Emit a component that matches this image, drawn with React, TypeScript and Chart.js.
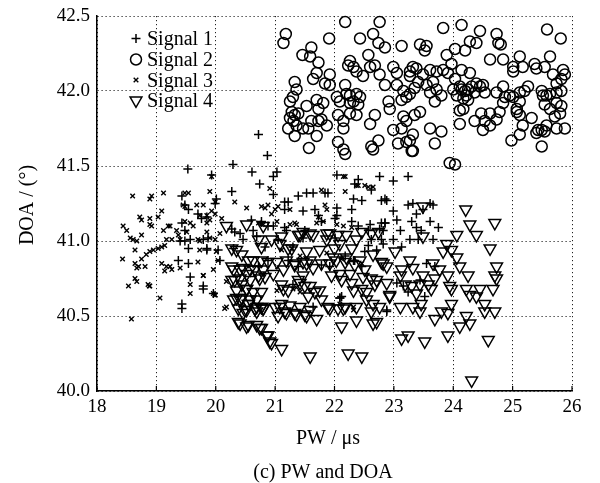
import React, { useEffect, useRef } from 'react';
import { Chart, registerables } from 'chart.js';

Chart.register(...registerables);

type Pt = [number, number];

const xTickValues = [18, 19, 20, 21, 22, 23, 24, 25, 26];
const yTickValues = [40.0, 40.5, 41.0, 41.5, 42.0, 42.5];
const seriesNames = ['Signal 1', 'Signal 2', 'Signal 3', 'Signal 4'];
const xTitle = 'PW / μs';
const yTitle = 'DOA / (°)';
const caption = '(c) PW and DOA';

// Signal 1 (+)
const signal1: Pt[] = [
  [20.72, 41.71], [20.87, 41.57], [20.29, 41.51], [19.53, 41.48], [20.61, 41.46], [21.03, 41.46], [20.97, 41.43], [20.74, 41.38], [19.93, 41.44],
  [20.27, 41.33], [20.01, 41.28], [19.99, 41.25], [19.43, 41.30], [19.48, 41.24], [19.54, 41.21], [19.70, 41.18], [19.76, 41.15], [19.85, 41.16],
  [19.43, 41.12], [19.48, 41.07], [19.40, 41.00], [19.48, 41.00], [19.57, 41.01], [19.54, 40.95], [19.79, 41.01], [19.87, 41.02], [19.37, 40.87],
  [19.54, 40.85], [19.85, 40.94], [19.57, 40.76], [19.79, 40.68], [19.43, 40.58], [19.43, 40.55],
  [20.27, 41.08], [20.32, 41.06], [20.46, 41.01], [20.60, 41.14], [20.63, 41.07], [20.69, 41.03], [20.04, 40.94], [20.07, 40.87], [19.96, 40.65],
  [22.04, 41.44], [22.34, 41.38], [22.62, 41.34], [22.76, 41.43], [22.40, 41.41], [20.97, 41.31], [21.16, 41.26], [21.22, 41.26], [21.39, 41.30],
  [21.53, 41.32], [21.64, 41.32], [21.84, 41.32], [21.89, 41.32],
  [21.16, 41.21], [21.47, 41.20], [21.67, 41.21], [21.73, 41.17], [22.04, 41.22], [22.29, 41.21], [22.04, 41.17], [22.32, 41.28], [22.46, 41.27], [22.79, 41.27],
  [20.77, 41.13], [20.88, 41.10], [21.16, 41.09], [21.50, 41.07], [21.78, 41.13], [22.01, 41.15], [22.29, 41.13], [22.40, 41.10], [22.57, 41.07], [22.79, 41.12], [22.82, 41.07],
  [20.83, 40.96], [21.05, 41.01], [22.01, 41.02], [22.18, 40.90], [22.57, 40.97], [22.62, 41.01], [22.51, 40.93], [22.82, 40.98], [22.34, 40.87], [22.46, 40.83],
  [20.72, 40.83], [20.88, 40.87], [21.22, 40.87], [21.39, 40.83], [21.78, 40.84], [21.92, 40.83], [21.30, 40.71], [22.12, 40.63], [21.64, 40.56], [22.09, 40.62],
  [22.99, 41.40], [23.24, 41.43], [22.85, 41.28], [22.88, 41.27], [22.99, 41.20], [22.85, 41.12], [23.05, 41.14], [23.11, 41.07], [23.24, 41.24], [23.32, 41.25],
  [23.38, 41.18], [23.49, 41.21], [23.61, 41.25], [23.66, 41.24], [23.61, 41.13], [23.75, 41.09], [23.30, 41.13], [23.38, 41.09], [23.46, 41.07], [23.27, 41.01],
  [23.41, 41.01], [23.13, 40.96], [22.76, 41.08], [23.66, 41.01], [22.99, 41.01], [23.55, 40.85], [23.69, 40.83], [23.44, 40.74], [23.52, 40.63], [22.88, 40.53],
  [23.05, 40.72], [23.16, 40.70], [23.24, 40.66],
  [19.85, 40.95], [19.79, 40.70], [20.41, 41.05], [20.30, 40.95], [20.97, 41.10], [21.19, 41.07], [21.30, 40.96], [21.47, 41.02], [22.60, 41.11], [22.85, 41.12],
  [22.79, 41.01], [22.71, 40.94], [22.09, 40.62], [22.88, 40.54], [22.32, 40.87],
];

// Signal 2 (o)
const signal2: Pt[] = [
  [21.18, 42.38], [21.14, 42.32], [22.18, 42.46], [22.76, 42.46], [21.91, 42.35], [22.43, 42.35], [22.65, 42.38], [22.74, 42.32], [22.85, 42.29], [23.13, 42.30],
  [21.61, 42.29], [21.46, 42.24], [21.59, 42.23], [21.73, 42.19], [22.26, 42.20], [22.23, 42.17], [22.32, 42.16], [22.37, 42.13], [22.57, 42.24], [22.60, 42.16],
  [22.68, 42.17], [22.48, 42.10], [22.76, 42.11], [22.99, 42.16], [23.05, 42.12], [21.70, 42.12], [21.64, 42.08], [21.92, 42.11], [21.84, 42.05], [21.92, 42.04],
  [21.33, 42.06], [21.36, 42.01], [21.30, 41.96], [22.18, 42.04], [22.20, 41.98], [22.04, 41.96], [22.09, 41.93], [22.26, 41.97], [22.37, 41.98], [22.43, 41.96],
  [22.26, 41.92], [22.32, 41.93], [22.40, 41.91], [22.85, 42.04], [23.05, 42.04], [23.16, 42.00], [23.21, 41.96], [23.27, 41.98], [23.13, 41.94], [23.32, 42.16], [23.27, 42.10],
  [21.25, 41.93], [21.28, 41.86], [21.33, 41.84], [21.39, 41.85], [21.25, 41.82], [21.31, 41.80], [21.36, 41.77], [21.53, 41.90], [21.70, 41.94], [21.81, 41.92],
  [21.73, 41.88], [21.61, 41.80], [21.73, 41.80], [21.78, 41.81], [21.87, 41.77], [21.22, 41.75], [21.33, 41.70], [21.47, 41.75], [21.56, 41.75], [21.70, 41.70], [21.57, 41.62],
  [22.06, 41.84], [22.15, 41.80], [22.15, 41.75], [22.26, 41.85], [22.37, 41.84], [22.06, 41.66], [22.15, 41.61], [22.18, 41.58], [22.60, 41.78], [22.68, 41.84],
  [22.74, 41.67], [22.62, 41.63], [22.65, 41.61], [22.91, 41.93], [22.93, 41.88], [22.99, 41.74], [23.13, 41.75], [23.16, 41.83], [23.21, 41.80], [23.07, 41.65],
  [23.21, 41.66], [23.27, 41.67], [23.30, 41.60],
  [23.83, 42.42], [24.14, 42.44], [24.45, 42.40], [24.73, 42.38], [24.76, 42.32], [24.80, 42.31], [25.58, 42.41], [25.81, 42.35], [23.44, 42.31], [23.55, 42.30],
  [23.52, 42.27], [24.03, 42.28], [24.20, 42.27], [24.28, 42.33], [24.39, 42.32], [23.89, 42.24], [23.97, 42.18], [24.62, 42.21], [24.84, 42.21], [25.12, 42.23],
  [25.01, 42.16], [25.01, 42.13], [25.17, 42.16], [25.37, 42.18], [25.40, 42.15], [25.54, 42.16], [25.63, 42.23], [25.85, 42.14], [25.88, 42.11], [25.82, 42.08],
  [25.74, 42.05], [25.68, 42.11],
  [23.38, 42.15], [23.27, 42.13], [23.49, 42.11], [23.61, 42.14], [23.72, 42.13], [23.83, 42.14], [23.91, 42.12], [23.66, 42.06], [23.55, 42.04], [23.41, 42.06],
  [23.35, 42.02], [23.61, 41.99], [23.72, 42.01], [23.80, 41.97], [23.69, 41.93],
  [24.03, 42.08], [24.14, 42.14], [24.28, 42.12], [24.11, 42.03], [24.14, 42.01], [24.20, 42.00], [24.25, 42.01], [24.31, 42.03], [24.39, 42.05], [24.45, 42.03],
  [24.50, 42.04], [24.36, 41.99], [24.22, 41.97], [24.06, 41.97], [24.17, 41.95], [24.25, 41.94], [24.11, 41.87], [24.17, 41.88], [24.00, 42.01],
  [24.53, 41.99], [24.73, 41.99], [24.84, 42.03], [24.87, 41.96], [24.95, 41.97], [25.12, 41.99], [25.20, 42.00], [25.26, 42.03], [25.49, 42.00], [25.57, 41.97],
  [25.51, 41.97], [25.63, 41.98], [25.74, 41.99], [25.82, 42.00], [24.84, 41.92], [25.07, 41.88], [25.12, 41.93], [25.01, 41.96], [25.54, 41.91], [25.63, 41.88],
  [25.74, 41.92], [25.82, 41.90], [25.80, 41.85], [25.71, 41.83],
  [24.47, 41.85], [24.62, 41.85], [24.78, 41.86], [24.36, 41.80], [24.53, 41.80], [24.62, 41.77], [24.50, 41.74], [24.73, 41.81], [25.07, 41.86], [25.12, 41.84],
  [25.17, 41.77], [24.98, 41.67], [25.12, 41.71], [25.32, 41.82], [25.43, 41.74], [25.49, 41.74], [25.57, 41.77], [25.54, 41.73], [25.40, 41.72], [25.74, 41.75],
  [25.88, 41.75], [25.49, 41.63],
  [23.35, 41.84], [23.32, 41.71], [23.32, 41.60], [23.44, 41.86], [23.61, 41.75], [23.69, 41.65], [23.80, 41.73], [24.11, 41.78], [23.94, 41.52], [24.03, 41.51],
];

// Signal 3 (x)
const signal3: Pt[] = [
  [18.60, 41.30], [18.92, 41.30], [18.89, 41.28], [19.12, 41.32], [18.44, 41.10], [18.50, 41.07], [18.72, 41.16], [18.75, 41.14], [18.89, 41.15], [18.89, 41.11],
  [18.92, 41.10], [19.09, 41.20], [19.03, 41.16], [19.12, 41.07], [19.20, 41.10], [19.23, 41.10],
  [18.56, 41.02], [18.61, 41.01], [18.67, 41.00], [18.75, 41.04], [18.64, 40.94], [18.43, 40.88],
  [18.64, 40.85], [18.67, 40.82], [18.70, 40.83], [18.81, 40.83], [18.75, 40.88], [18.83, 40.91], [18.89, 40.93], [18.95, 40.94], [19.03, 40.95], [19.09, 40.96],
  [19.14, 40.97], [19.17, 41.01], [19.26, 41.01],
  [18.64, 40.75], [18.67, 40.73], [18.86, 40.71], [18.89, 40.70], [19.06, 40.62], [18.58, 40.48],
  [19.09, 40.85], [19.17, 40.83], [19.23, 40.83], [19.26, 40.81], [19.40, 40.82], [19.14, 40.80],
  [19.34, 41.07], [19.37, 41.04], [19.40, 41.01], [19.48, 41.13], [19.51, 41.06], [19.57, 41.12], [19.62, 41.10], [19.70, 41.01], [19.73, 41.00], [19.73, 40.94],
  [19.70, 40.86], [19.85, 41.06], [19.90, 41.02], [19.99, 41.01], [20.01, 40.93], [20.04, 40.87],
  [19.48, 41.32], [19.54, 41.32], [19.45, 41.24], [19.48, 41.23], [19.68, 41.24], [19.79, 41.24], [19.73, 41.17], [19.85, 41.17], [19.90, 41.14], [19.93, 41.20],
  [19.90, 41.33], [19.93, 41.43], [19.99, 41.26], [19.99, 41.18], [20.10, 41.15],
  [19.57, 40.71], [19.57, 40.65], [19.79, 40.77], [19.96, 40.65], [19.99, 40.64], [20.18, 40.56], [20.52, 41.22], [20.32, 41.26],
  [20.91, 41.35], [20.77, 41.23], [20.83, 41.22], [20.88, 41.24], [20.94, 41.18], [21.00, 41.21], [21.05, 41.23], [21.03, 41.13], [21.25, 41.21], [21.84, 41.24],
  [21.78, 41.34], [22.18, 41.33], [22.37, 41.37], [22.51, 41.37], [22.65, 41.36], [21.87, 41.21], [22.18, 41.43],
  [20.72, 41.12], [20.80, 41.11], [21.25, 41.11], [21.33, 41.12], [21.73, 41.16], [21.81, 41.13], [22.15, 41.10], [22.29, 41.09],
  [21.11, 40.94], [21.42, 40.90], [21.28, 40.95], [21.87, 40.92], [22.12, 40.88], [22.46, 40.85], [21.30, 40.68], [22.32, 40.56],
  [18.53, 40.70], [18.88, 40.70], [22.15, 41.43], [22.40, 41.37], [22.57, 41.36],
  [19.96, 40.81], [20.18, 40.73], [20.15, 40.55], [19.99, 40.64], [19.79, 40.77], [21.03, 40.67], [21.36, 40.69], [21.42, 40.66], [22.32, 40.54], [22.09, 40.58],
  [19.85, 41.12], [20.07, 41.05], [20.77, 41.11], [21.36, 41.11], [21.70, 41.12], [22.04, 41.11],
];

// Signal 4 (downward triangle)
const signal4: Pt[] = [
  [24.21, 41.21], [24.70, 41.12], [24.28, 41.11], [24.39, 41.04], [24.06, 41.04], [23.89, 40.98], [23.97, 40.94], [24.06, 40.89], [24.11, 40.83], [24.62, 40.95],
  [24.73, 40.83], [24.70, 40.77], [24.73, 40.75],
  [24.25, 40.77], [24.22, 40.68], [24.28, 40.64], [24.45, 40.68], [24.39, 40.63], [24.67, 40.68], [24.53, 40.58], [24.70, 40.53], [24.53, 40.53],
  [23.94, 40.70], [23.97, 40.58], [23.80, 40.53], [23.91, 40.52], [23.69, 40.48], [24.11, 40.43], [24.22, 40.50], [24.28, 40.45],
  [23.13, 40.35], [23.24, 40.37], [23.52, 40.33], [23.91, 40.37], [24.59, 40.34], [24.31, 40.07], [23.49, 41.23], [23.49, 41.03],
  [23.27, 40.87], [23.13, 40.81], [23.11, 40.77], [23.32, 40.82], [23.49, 40.77], [23.69, 40.75], [23.44, 40.71], [23.58, 40.71], [23.30, 40.70], [23.19, 40.71],
  [23.77, 40.81], [23.91, 40.77], [23.97, 40.68], [22.93, 40.64], [23.38, 40.65], [23.63, 40.68], [23.11, 40.56], [23.32, 40.56], [23.44, 40.53], [23.46, 40.58],
  [23.66, 40.85], [23.83, 40.93], [23.02, 40.93], [22.88, 40.83],
  [21.39, 41.04], [21.47, 41.06], [21.64, 41.04], [21.87, 41.05], [22.06, 41.04], [22.20, 41.04], [22.46, 41.06], [22.62, 41.05], [22.74, 41.06], [20.72, 41.01],
  [20.94, 41.01], [21.08, 40.98], [21.22, 40.95], [21.11, 41.03], [20.77, 40.96],
  [20.77, 40.87], [20.88, 40.86], [21.03, 40.86], [21.19, 40.87], [21.33, 40.85], [21.47, 40.86], [21.59, 40.87], [21.78, 40.85], [21.92, 40.85], [22.03, 40.87],
  [22.18, 40.86], [22.34, 40.84], [22.51, 40.81], [22.79, 40.86], [21.28, 40.95], [21.53, 40.93], [21.75, 40.94], [22.00, 40.95], [22.29, 40.95],
  [20.72, 40.77], [20.83, 40.76], [20.97, 40.78], [21.11, 40.71], [21.22, 40.67], [21.39, 40.74], [21.50, 40.70], [21.67, 40.66], [21.56, 40.63], [21.78, 40.61],
  [21.95, 40.77], [22.12, 40.74], [22.29, 40.72], [22.46, 40.68], [22.62, 40.75], [22.68, 40.71], [20.77, 40.66], [20.69, 40.61],
  [20.77, 40.56], [21.00, 40.56], [21.16, 40.53], [21.33, 40.52], [21.50, 40.51], [21.70, 40.48], [21.89, 40.56], [22.06, 40.55], [22.18, 40.56], [22.62, 40.53], [21.11, 40.58],
  [20.77, 40.42], [20.88, 40.37], [20.91, 40.33], [21.11, 40.28], [22.12, 40.43], [22.23, 40.25], [22.46, 40.23], [21.59, 40.23], [20.69, 40.44],
  [20.38, 40.46], [20.52, 40.43], [20.69, 40.53], [20.80, 40.55], [20.74, 40.42], [20.86, 40.37], [20.94, 40.32], [20.35, 40.62], [20.55, 40.58], [20.49, 40.54],
  [22.71, 40.46],
  [20.18, 41.10], [20.27, 40.95], [20.35, 40.94], [20.44, 40.91], [20.55, 40.87], [20.63, 40.87], [20.27, 40.83], [20.41, 40.81], [20.52, 40.78], [20.66, 40.81],
  [20.32, 40.74], [20.44, 40.71], [20.52, 40.68], [20.63, 40.66], [20.41, 40.61], [20.55, 40.58], [20.69, 40.56], [20.46, 40.52], [20.41, 40.45], [20.55, 40.44],
  [20.30, 40.81], [20.46, 40.82], [20.58, 40.81], [20.80, 40.81], [20.27, 40.74], [20.41, 40.75], [20.58, 40.74], [20.74, 40.75], [20.35, 40.67], [20.52, 40.68],
  [20.30, 40.61], [20.44, 40.62], [20.58, 40.61], [20.77, 40.56], [20.38, 40.55], [20.52, 40.54], [20.66, 40.55], [20.80, 40.55],
  [21.14, 40.81], [21.33, 40.84], [21.53, 40.85], [21.64, 40.82], [21.47, 40.77], [21.14, 40.68], [21.42, 40.72], [21.59, 40.70], [21.75, 40.67], [21.25, 40.57],
  [21.42, 40.56], [21.59, 40.54], [21.08, 40.56], [21.05, 40.50], [21.19, 40.52], [21.36, 40.51], [21.53, 40.50],
  [21.87, 41.01], [22.09, 40.98], [22.37, 41.01], [21.98, 40.89], [22.20, 40.89], [22.43, 40.87], [22.65, 40.91], [22.82, 40.85], [22.09, 40.78], [22.26, 40.78],
  [22.48, 40.76], [22.71, 40.74], [22.88, 40.72], [21.92, 40.55], [22.15, 40.55], [22.37, 40.56], [22.54, 40.61], [22.65, 40.58], [22.76, 40.56], [22.32, 40.67],
  [22.54, 40.66], [22.93, 40.63], [22.37, 40.47], [22.65, 40.45],
  [20.52, 41.11], [20.80, 41.10], [21.42, 41.04], [21.59, 41.05], [21.92, 41.05],
];

const FONT = "'Liberation Serif', 'Times New Roman', Times, serif";

function drawMarker(ctx: CanvasRenderingContext2D, kind: number, x: number, y: number) {
  ctx.beginPath();
  if (kind === 0) {
    ctx.lineWidth = 1.5;
    ctx.moveTo(x - 4.5, y); ctx.lineTo(x + 4.5, y);
    ctx.moveTo(x, y - 4.5); ctx.lineTo(x, y + 4.5);
  } else if (kind === 1) {
    ctx.lineWidth = 1.5;
    ctx.arc(x, y, 5.5, 0, Math.PI * 2);
  } else if (kind === 2) {
    ctx.lineWidth = 1.4;
    ctx.moveTo(x - 2.3, y - 2.3); ctx.lineTo(x + 2.3, y + 2.3);
    ctx.moveTo(x - 2.3, y + 2.3); ctx.lineTo(x + 2.3, y - 2.3);
  } else {
    ctx.lineWidth = 1.5;
    const r = 6.8;
    ctx.moveTo(x, y + r);
    ctx.lineTo(x - r * Math.sin(Math.PI / 3), y - r / 2);
    ctx.lineTo(x + r * Math.sin(Math.PI / 3), y - r / 2);
    ctx.closePath();
  }
  ctx.stroke();
}

const overlayPlugin = {
  id: 'overlay',
  afterDraw(chart: any) {
    const ctx: CanvasRenderingContext2D = chart.ctx;
    const xs = chart.scales.x;
    const area = chart.chartArea;
    ctx.save();
    ctx.strokeStyle = '#000';
    ctx.lineWidth = 1.2;
    xTickValues.forEach((v) => {
      const px = xs.getPixelForValue(v);
      ctx.beginPath();
      ctx.moveTo(px, area.bottom);
      ctx.lineTo(px, area.bottom - 5);
      ctx.stroke();
    });

    ctx.fillStyle = '#000';
    ctx.font = `20px ${FONT}`;
    ctx.textAlign = 'center';
    ctx.textBaseline = 'alphabetic';
    ctx.fillText(xTitle, 328, 444);
    ctx.fillText(caption, 323, 478);

    ctx.save();
    ctx.translate(33, 205);
    ctx.rotate(-Math.PI / 2);
    ctx.fillText(yTitle, 0, 0);
    ctx.restore();

    // legend
    const legendY = [38.5, 59.5, 80, 100.5];
    const baseY = [44.5, 65.5, 86.5, 107];
    ctx.textAlign = 'left';
    seriesNames.forEach((name, i) => {
      ctx.strokeStyle = '#000';
      drawMarker(ctx, i, 136, legendY[i]);
      ctx.fillText(name, 147, baseY[i]);
    });
    ctx.restore();
  },
};

export default function App() {
  const canvasRef = useRef<HTMLCanvasElement | null>(null);

  useEffect(() => {
    const canvas = canvasRef.current;
    if (!canvas) return;
    const toXY = (arr: Pt[]) => arr.map(([x, y]) => ({ x, y }));
    const chart = new Chart(canvas, {
      type: 'scatter',
      data: {
        datasets: [
          {
            label: seriesNames[0], data: toXY(signal1), pointStyle: 'cross', pointRadius: 4.5,
            borderColor: '#000', backgroundColor: 'transparent', pointBorderWidth: 1.5, borderWidth: 1.5,
          },
          {
            label: seriesNames[1], data: toXY(signal2), pointStyle: 'circle', pointRadius: 5.5,
            borderColor: '#000', backgroundColor: 'transparent', pointBorderWidth: 1.5, borderWidth: 1.5,
          },
          {
            label: seriesNames[2], data: toXY(signal3), pointStyle: 'crossRot', pointRadius: 3.2,
            borderColor: '#000', backgroundColor: 'transparent', pointBorderWidth: 1.4, borderWidth: 1.4,
          },
          {
            label: seriesNames[3], data: toXY(signal4), pointStyle: 'triangle', pointRotation: 180, pointRadius: 6.8,
            borderColor: '#000', backgroundColor: 'transparent', pointBorderWidth: 1.5, borderWidth: 1.5,
          },
        ] as any,
      },
      options: {
        responsive: false,
        animation: false,
        devicePixelRatio: 1,
        events: [],
        clip: false as any,
        layout: { padding: { left: 0, right: 28, top: 16, bottom: 0 } },
        plugins: { legend: { display: false }, tooltip: { enabled: false }, title: { display: false } },
        scales: {
          x: {
            type: 'linear',
            min: 18,
            max: 26,
            afterBuildTicks: (s: any) => { s.ticks = xTickValues.map((v) => ({ value: v })); },
            afterFit: (s: any) => { s.height = 92; s.paddingLeft = 0; s.paddingRight = 0; },
            ticks: {
              color: '#000',
              font: { family: FONT, size: 19 },
              padding: 5,
              maxRotation: 0,
              autoSkip: false,
              callback: (v: any) => String(v),
            },
            grid: { color: '#222', lineWidth: 1, drawTicks: false },
            border: { display: true, color: '#000', width: 1.5, dash: [1.2, 2.8] },
          },
          y: {
            type: 'linear',
            min: 40,
            max: 42.5,
            afterBuildTicks: (s: any) => { s.ticks = yTickValues.map((v) => ({ value: v })); },
            afterFit: (s: any) => { s.width = 97; s.paddingTop = 0; s.paddingBottom = 0; },
            ticks: {
              color: '#000',
              font: { family: FONT, size: 19 },
              padding: 7,
              autoSkip: false,
              callback: (v: any) => Number(v).toFixed(1),
            },
            grid: { color: '#222', lineWidth: 1, drawTicks: false },
            border: { display: true, color: '#000', width: 1.5, dash: [1.2, 2.8] },
          },
        },
      } as any,
      plugins: [overlayPlugin],
    });
    return () => chart.destroy();
  }, []);

  return (
    <div style={{ position: 'absolute', left: 0, top: 0, width: 600, height: 483, background: '#fff' }}>
      <canvas ref={canvasRef} width={600} height={483} style={{ display: 'block' }} />
    </div>
  );
}
